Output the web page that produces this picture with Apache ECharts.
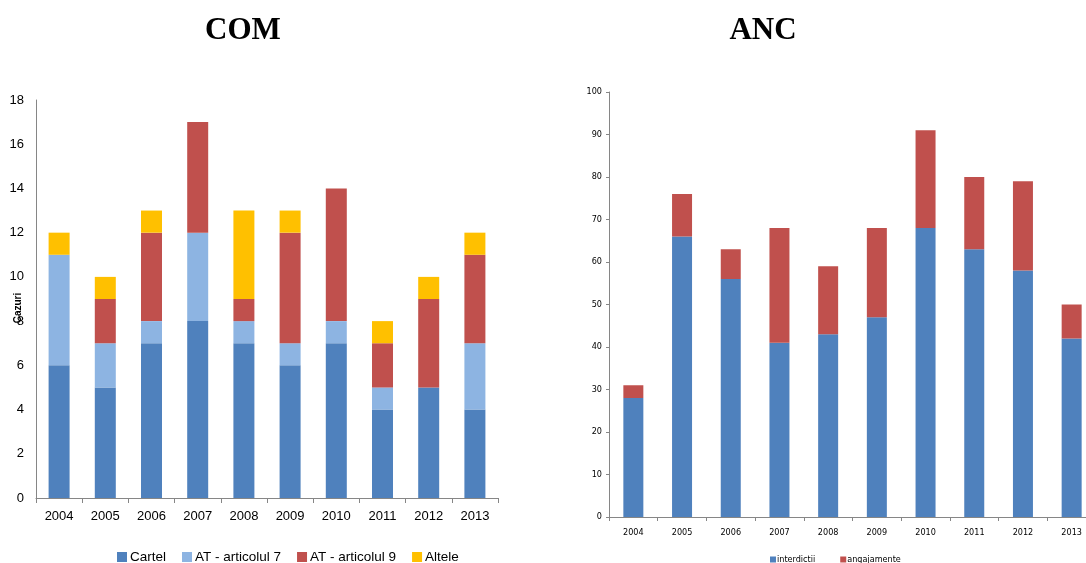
<!DOCTYPE html>
<html><head><meta charset="utf-8">
<script src="https://cdn.jsdelivr.net/npm/echarts@6/dist/echarts.min.js"></script>
<style>html,body{margin:0;padding:0;background:#fff;overflow:hidden}#c{width:1096px;height:563px}</style>
</head><body><div id="c"></div>
<script>
var years = ['2004','2005','2006','2007','2008','2009','2010','2011','2012','2013'];
var cartel   = [6,5,7,8,7,6,7,4,5,4];
var art7     = [5,2,1,4,1,1,1,1,0,3];
var art9     = [0,2,4,5,1,5,6,2,4,4];
var altele   = [1,1,1,0,4,1,0,1,1,1];
var comTicks = [0,2,4,6,8,10,12,14,16,18];
var interdictii = [28,66,56,41,43,47,68,63,58,42];
var angajamente = [3,10,7,27,16,21,23,17,21,8];
var ancTicks = [0,10,20,30,40,50,60,70,80,90,100];

var axisGray = '#868686';
var narrow = '"DejaVu Sans Condensed", "Liberation Sans", sans-serif';
var chart = echarts.init(document.getElementById('c'));
function bar(name, data, color, xi, width){
  return {name:name, type:'bar', stack:'s'+xi, xAxisIndex:xi, yAxisIndex:xi, data:data,
    barWidth:width, itemStyle:{color:color}, emphasis:{disabled:true}, animation:false};
}
chart.setOption({
  animation:false,
  title:[
    {text:'COM', left:238, top:10, textAlign:'center', textStyle:{fontFamily:'Liberation Serif', fontWeight:'bold', fontSize:31, color:'#000'}},
    {text:'ANC', left:758, top:10, textAlign:'center', textStyle:{fontFamily:'Liberation Serif', fontWeight:'bold', fontSize:31, color:'#000'}}
  ],
  legend:[
    {data:['Cartel','AT - articolul 7','AT - articolul 9','Altele'], left:112, top:545, itemWidth:10, itemHeight:10, itemGap:16, icon:'rect',
      textStyle:{fontFamily:'Liberation Sans', fontSize:13.5, color:'#000', padding:[0,0,0,-2]}},
    {data:['interdicții','angajamente'], left:765, top:550, itemWidth:6, itemHeight:6, itemGap:25, icon:'rect',
      textStyle:{fontFamily:narrow, fontSize:9, color:'#000', padding:[0,0,0,-4]}}
  ],
  grid:[
    {left:36, width:462, top:100, bottom:65},
    {left:609, width:487, top:92, bottom:46}
  ],
  xAxis:[
    {type:'category', gridIndex:0, data:years, axisLine:{lineStyle:{color:axisGray}}, axisTick:{show:true, length:5, lineStyle:{color:axisGray}},
      axisLabel:{color:'#000', fontFamily:'Liberation Sans', fontSize:13, margin:12}},
    {type:'category', gridIndex:1, data:years, axisLine:{lineStyle:{color:axisGray}}, axisTick:{show:true, length:4, lineStyle:{color:axisGray}},
      axisLabel:{color:'#000', fontFamily:narrow, fontSize:9, margin:11}}
  ],
  yAxis:[
    {type:'value', gridIndex:0, min:comTicks[0], max:comTicks[comTicks.length-1], interval:2, name:'Cazuri', nameLocation:'middle', nameRotate:90, nameGap:13,
      nameMoveOverlap:false,
      nameTextStyle:{fontFamily:'Liberation Sans', fontWeight:'bold', fontSize:10, color:'#000', padding:[0,0,0,-18]},
      axisLine:{show:true, lineStyle:{color:axisGray}}, axisTick:{show:false}, splitLine:{show:false},
      axisLabel:{color:'#000', fontFamily:'Liberation Sans', fontSize:13, margin:12}},
    {type:'value', gridIndex:1, min:ancTicks[0], max:ancTicks[ancTicks.length-1], interval:10,
      axisLine:{show:true, lineStyle:{color:axisGray}}, axisTick:{show:true, length:3, lineStyle:{color:axisGray}}, splitLine:{show:false},
      axisLabel:{color:'#000', fontFamily:narrow, fontSize:9, margin:7}}
  ],
  series:[
    bar('Cartel', cartel, '#4F81BD', 0, 21),
    bar('AT - articolul 7', art7, '#8DB4E2', 0, 21),
    bar('AT - articolul 9', art9, '#C0504D', 0, 21),
    bar('Altele', altele, '#FFC000', 0, 21),
    bar('interdicții', interdictii, '#4F81BD', 1, 20),
    bar('angajamente', angajamente, '#C0504D', 1, 20)
  ]
});
</script></body></html>
